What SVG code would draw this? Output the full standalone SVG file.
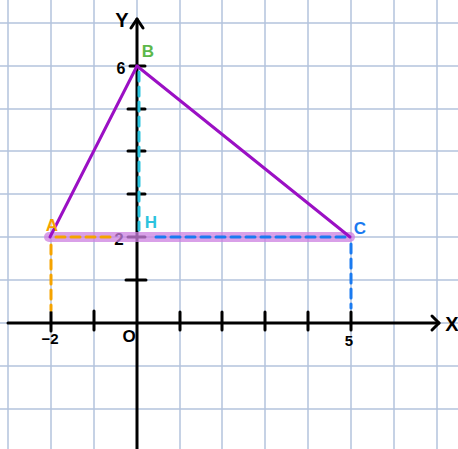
<svg xmlns="http://www.w3.org/2000/svg" width="458" height="449" viewBox="0 0 458 449">
<style>
.grid line{stroke:#b3c3dd;stroke-width:1.5}
.axis{stroke:#000;stroke-width:3;fill:none;stroke-linecap:round;stroke-linejoin:round}
.tick{stroke:#000;stroke-width:3;stroke-linecap:round}
.num{font-family:"Liberation Sans",Arial,sans-serif;font-weight:bold;font-size:15px;fill:#000;text-anchor:middle}
.axl{font-family:"Liberation Sans",Arial,sans-serif;font-weight:bold;font-size:20px;fill:#000;text-anchor:middle}
.lbl{font-family:"Liberation Sans",Arial,sans-serif;font-weight:bold;font-size:17px;text-anchor:middle}
.tri{stroke:#9b10c4;stroke-width:3;fill:none;stroke-linecap:round}
.dash{stroke-width:3;fill:none;stroke-dasharray:9 6;stroke-linecap:round}
</style>
<rect width="458" height="449" fill="#fff"/>
<g class="grid">
<line x1="8" y1="0" x2="8" y2="449"/>
<line x1="51" y1="0" x2="51" y2="449"/>
<line x1="94" y1="0" x2="94" y2="449"/>
<line x1="137" y1="0" x2="137" y2="449"/>
<line x1="180" y1="0" x2="180" y2="449"/>
<line x1="222" y1="0" x2="222" y2="449"/>
<line x1="265" y1="0" x2="265" y2="449"/>
<line x1="308" y1="0" x2="308" y2="449"/>
<line x1="351" y1="0" x2="351" y2="449"/>
<line x1="394" y1="0" x2="394" y2="449"/>
<line x1="437" y1="0" x2="437" y2="449"/>
<line x1="0" y1="23" x2="458" y2="23"/>
<line x1="0" y1="66" x2="458" y2="66"/>
<line x1="0" y1="109" x2="458" y2="109"/>
<line x1="0" y1="151" x2="458" y2="151"/>
<line x1="0" y1="194" x2="458" y2="194"/>
<line x1="0" y1="237" x2="458" y2="237"/>
<line x1="0" y1="280" x2="458" y2="280"/>
<line x1="0" y1="323" x2="458" y2="323"/>
<line x1="0" y1="366" x2="458" y2="366"/>
<line x1="0" y1="409" x2="458" y2="409"/>
</g>
<g id="axes">
<line class="axis" x1="8" y1="323" x2="439" y2="323"/>
<polyline class="axis" points="432,316 439,323 432,330"/>
<line class="axis" x1="137" y1="449" x2="137" y2="19"/>
<polyline class="axis" points="131,28 137,19 143,28"/>
<line class="tick" x1="51" y1="312" x2="51" y2="331"/>
<line class="tick" x1="94" y1="311" x2="94" y2="330"/>
<line class="tick" x1="180" y1="312" x2="180" y2="330"/>
<line class="tick" x1="222" y1="312" x2="222" y2="330"/>
<line class="tick" x1="265" y1="312" x2="265" y2="330"/>
<line class="tick" x1="308" y1="312" x2="308" y2="330"/>
<line class="tick" x1="351" y1="312" x2="351" y2="330"/>
<line class="tick" x1="126" y1="280" x2="146" y2="280"/>
<line class="tick" x1="128" y1="237" x2="145" y2="237"/>
<line class="tick" x1="128" y1="194" x2="145" y2="194"/>
<line class="tick" x1="128" y1="151" x2="145" y2="151"/>
<line class="tick" x1="128" y1="109" x2="145" y2="109"/>
<line class="tick" x1="130" y1="66" x2="145" y2="66"/>
<text class="axl" x="122" y="27">Y</text>
<text class="axl" x="452" y="331">X</text>
<text class="num" x="121" y="74" style="font-size:16px">6</text>
<text class="num" x="119" y="245" style="font-size:17px">2</text>
<text class="num" x="50" y="344">−2</text>
<text class="num" x="129" y="342" style="font-size:17px">O</text>
<text class="num" x="349" y="346">5</text>
</g>
<g id="connectors">
<line x1="49" y1="237" x2="350" y2="237" stroke="#cc80e0" stroke-opacity="0.75" stroke-width="10" stroke-linecap="round"/>
<line class="tri" x1="50" y1="237" x2="137" y2="66"/>
<line class="tri" x1="137" y1="66" x2="350" y2="237"/>
<line class="dash" stroke="#2cc3de" x1="139" y1="72" x2="139" y2="230"/>
<line class="dash" stroke="#f5a300" x1="56" y1="237" x2="112" y2="237"/>
<line class="dash" stroke="#f5a300" x1="51" y1="245" x2="51" y2="310"/>
<line class="dash" stroke="#1a7af0" x1="156" y1="237" x2="345" y2="237"/>
<line class="dash" stroke="#1a7af0" x1="351" y1="244" x2="351" y2="308"/>
</g>
<g id="node-A"><text class="lbl" x="52" y="231" fill="#f5a300">A</text></g>
<g id="node-B"><text class="lbl" x="148" y="57" fill="#5cb84a">B</text></g>
<g id="node-C"><text class="lbl" x="360" y="234" fill="#1a7af0">C</text></g>
<g id="node-H"><text class="lbl" x="151" y="228" fill="#2cc3de">H</text></g>
</svg>
